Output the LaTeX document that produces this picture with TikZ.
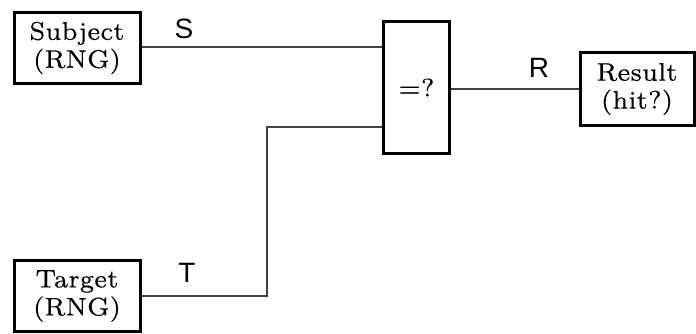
\documentclass[tikz,border=0pt]{standalone}
\usepackage{fontspec}
\newfontfamily\lblfont{Liberation Sans}
\newfontfamily\boxfont{lmroman7-regular.otf}[FakeBold=0.2]
\begin{document}
\begin{tikzpicture}[x=1pt,y=-1pt,
  box/.style={draw, line width=3pt, rectangle, align=center, inner sep=0pt,
    font=\boxfont\fontsize{25.5}{28}\selectfont},
  wire/.style={line width=1.1pt, draw=black!75},
  lbl/.style={font=\lblfont\fontsize{28}{30}\selectfont, inner sep=0pt}]
\useasboundingbox (0,0) rectangle (696,333);
\node[box, minimum width=126pt, minimum height=71pt] (subj) at (77,48) {Subject\\(RNG)};
\node[box, minimum width=66pt, minimum height=132pt] (cmp) at (416.5,87.5) {=?};
\node[box, minimum width=114pt, minimum height=73pt] (res) at (637,89) {Result\\(hit?)};
\node[box, minimum width=126pt, minimum height=71pt] (tgt) at (77,296) {Target\\(RNG)};
\coordinate (bend1) at (267,296);
\coordinate (bend2) at (267,127);
\draw[wire] (subj.east |- 0,47) -- (cmp.west |- 0,47);
\draw[wire] (tgt.east |- bend1) -- (bend1) -- (bend2) -- (cmp.west |- bend2);
\draw[wire] (cmp.east |- res.west) -- (res.west);
\node[lbl, anchor=base] (s) at (184,38) {S};
\node[lbl, anchor=base] (t) at (187,282) {T};
\node[lbl, anchor=base] (r) at (539,77) {R};
\end{tikzpicture}
\end{document}
